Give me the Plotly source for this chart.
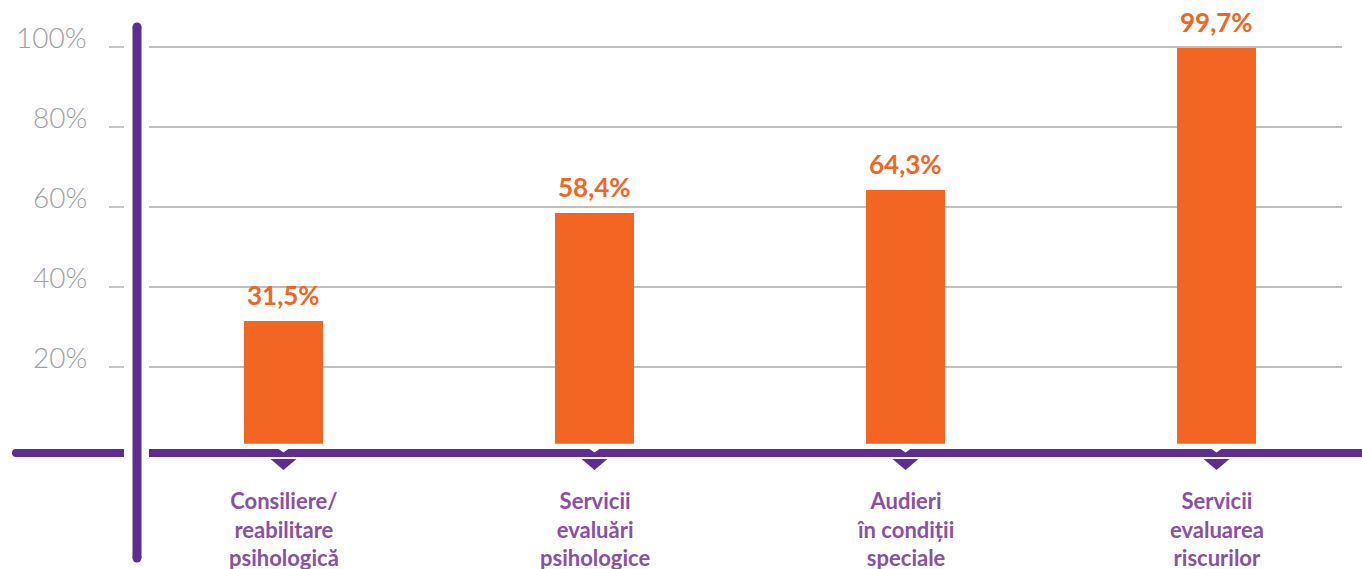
import plotly.graph_objects as go

categories = ["Consiliere/<br>reabilitare<br>psihologică",
              "Servicii<br>evaluări<br>psihologice",
              "Audieri<br>în condiții<br>speciale",
              "Servicii<br>evaluarea<br>riscurilor"]
values = [31.5, 58.4, 64.3, 99.7]
y_ticks = [20, 40, 60, 80, 100]
y_tick_labels = ["20%", "40%", "60%", "80%", "100%"]

ORANGE = "#F26522"
PURPLE = "#5E2D8F"
LABEL_PURPLE = "#8A4FA6"
GRID = "#A8A8A8"
TICKTXT = "#9E9E9E"

W, H = 1362, 569
xpos = list(range(len(categories)))

fig = go.Figure()
fig.add_trace(go.Bar(x=xpos, y=values, width=0.254, marker=dict(color=ORANGE, line=dict(width=0)),
                     hoverinfo="skip"))

shapes = []
# gridlines and tick marks
for t in y_ticks:
    shapes.append(dict(type="line", xref="paper", yref="y", x0=149 / W, x1=1342 / W, y0=t, y1=t,
                       line=dict(color=GRID, width=1.3), layer="below"))
    shapes.append(dict(type="line", xref="paper", yref="y", x0=109 / W, x1=124 / W, y0=t, y1=t,
                       line=dict(color=GRID, width=1.3), layer="below"))

# white gap between bars and baseline
shapes.append(dict(type="rect", xref="paper", yref="y", x0=0, x1=1, y0=-0.4, y1=0.8,
                   fillcolor="white", line=dict(width=0), layer="above"))
# horizontal purple baseline (two parts)
shapes.append(dict(type="line", xref="paper", yref="y", x0=16 / W, x1=124 / W, y0=-1.5, y1=-1.5,
                   line=dict(color=PURPLE, width=8), layer="above"))
shapes.append(dict(type="circle", xref="paper", yref="paper",
                   x0=12 / W, x1=20 / W, y0=1 - 457 / H, y1=1 - 449 / H,
                   fillcolor=PURPLE, line=dict(width=0), layer="above"))
shapes.append(dict(type="line", xref="paper", yref="y", x0=149 / W, x1=1, y0=-1.5, y1=-1.5,
                   line=dict(color=PURPLE, width=8), layer="above"))
# vertical purple line
shapes.append(dict(type="line", xref="paper", yref="paper", x0=137 / W, x1=137 / W,
                   y0=1 - 558 / H, y1=1 - 27 / H, line=dict(color=PURPLE, width=9), layer="above"))
for cy in (27, 558):
    shapes.append(dict(type="circle", xref="paper", yref="paper",
                       x0=132.5 / W, x1=141.5 / W, y0=1 - (cy + 4.5) / H, y1=1 - (cy - 4.5) / H,
                       fillcolor=PURPLE, line=dict(width=0), layer="above"))

# triangles under each category + white notch
px_per_unit = 311.0
for xp in xpos:
    hw = 13 / px_per_unit
    shapes.append(dict(type="path", xref="x", yref="y",
                       path=f"M {xp - hw} -3 L {xp + hw} -3 L {xp} -5.75 Z",
                       fillcolor=PURPLE, line=dict(width=0), layer="above"))
    nw = 6 / px_per_unit
    shapes.append(dict(type="path", xref="x", yref="y",
                       path=f"M {xp - nw} -0.3 L {xp + nw} -0.3 L {xp} -1.4 Z",
                       fillcolor="white", line=dict(width=0), layer="above"))

annotations = []
for t, lab in zip(y_ticks, y_tick_labels):
    annotations.append(dict(xref="paper", yref="y", x=89 / W, y=t, text=lab, showarrow=False,
                            xanchor="right", yanchor="middle", yshift=10,
                            font=dict(family="Lato", size=28, color=TICKTXT, weight=300)))
for xp, v in zip(xpos, values):
    annotations.append(dict(xref="x", yref="y", x=xp, y=v,
                            text=f"{v:.1f}".replace(".", ",") + "%", showarrow=False,
                            xanchor="center", yanchor="middle", yshift=26,
                            font=dict(family="Lato", size=26, color=ORANGE, weight="bold")))
for xp, c in zip(xpos, categories):
    annotations.append(dict(xref="x", yref="y", x=xp, y=-9.5, text=c, showarrow=False,
                            xanchor="center", yanchor="top",
                            font=dict(family="Lato", size=22, color=LABEL_PURPLE, weight="bold")))

fig.update_layout(
    width=W, height=H, autosize=False,
    margin=dict(l=0, r=0, t=0, b=0, pad=0),
    paper_bgcolor="white", plot_bgcolor="white",
    showlegend=False,
    xaxis=dict(visible=False, range=[-283.5 / px_per_unit, (W - 283.5) / px_per_unit], fixedrange=True),
    yaxis=dict(visible=False, range=[-(H - 447) / 4.0, 447 / 4.0], fixedrange=True),
    shapes=shapes, annotations=annotations,
    bargap=0,
)

fig.write_html("out.html", config={"displayModeBar": False, "staticPlot": True},
               post_script="document.body.style.margin='0';document.body.style.overflow='hidden';")
